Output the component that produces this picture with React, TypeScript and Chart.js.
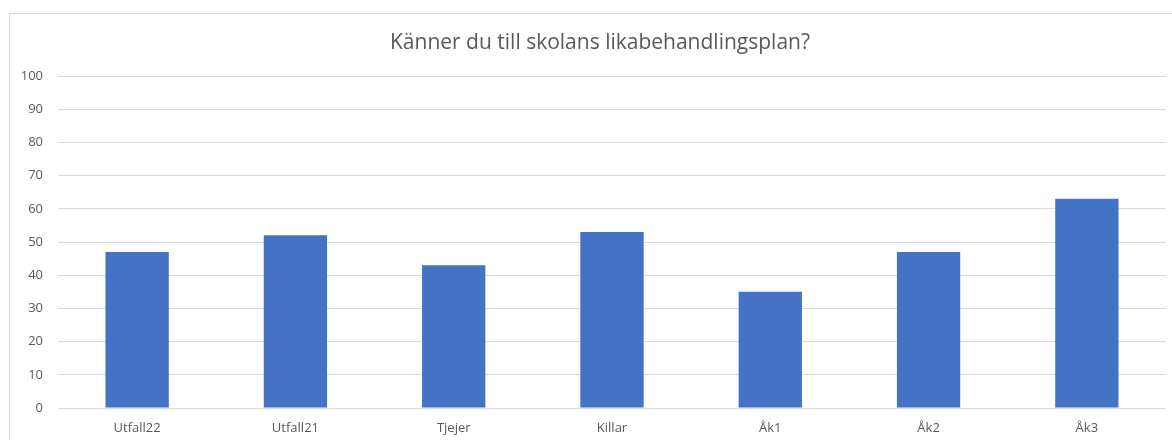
import React, { useEffect, useRef } from "react";
import { Chart, registerables } from "chart.js";

Chart.register(...registerables);

const categories = ["Utfall22", "Utfall21", "Tjejer", "Killar", "Åk1", "Åk2", "Åk3"];
const values = [47, 52, 43, 53, 35, 47, 63];
const titleText = "Känner du till skolans likabehandlingsplan?";
const yMin = 0;
const yMax = 100;
const yStep = 10;

const titlePlugin = {
  id: "offsetTitle",
  afterDraw(chart: any) {
    const ctx = chart.ctx;
    ctx.save();
    ctx.font = "normal 21px 'Open Sans', sans-serif";
    ctx.fillStyle = "#595959";
    ctx.textAlign = "center";
    ctx.textBaseline = "middle";
    ctx.fillText(titleText, 600, 43);
    ctx.restore();
  },
};

export default function App() {
  const ref = useRef<HTMLCanvasElement | null>(null);

  useEffect(() => {
    if (!ref.current) return;
    const chart = new Chart(ref.current, {
      type: "bar",
      data: {
        labels: categories,
        datasets: [
          {
            data: values,
            backgroundColor: "#4472C4",
            borderWidth: 0,
            categoryPercentage: 1,
            barPercentage: 0.4,
          },
        ],
      },
      plugins: [titlePlugin],
      options: {
        animation: false,
        responsive: false,
        maintainAspectRatio: false,
        layout: { padding: { left: 0, right: 6, top: 76, bottom: 0 } },
        plugins: {
          legend: { display: false },
          tooltip: { enabled: false },
          title: { display: false },
        },
        scales: {
          x: {
            grid: { display: false, drawTicks: false },
            border: { display: false },
            ticks: {
              color: "#595959",
              font: { family: "'Open Sans', sans-serif", size: 13 },
              padding: 12,
              maxRotation: 0,
            },
            afterFit: (s: any) => {
              s.height = 32;
            },
          },
          y: {
            min: yMin,
            max: yMax,
            grid: { color: "#d9d9d9", drawTicks: false, lineWidth: 1 },
            border: { display: false },
            ticks: {
              stepSize: yStep,
              color: "#595959",
              font: { family: "'Open Sans', sans-serif", size: 13 },
              padding: 15,
            },
            afterFit: (s: any) => {
              s.width = 58;
            },
          },
        },
      },
    });
    return () => chart.destroy();
  }, []);

  return (
    <div style={{ position: "fixed", left: 0, top: 0, width: 1172, height: 440, background: "#fff", overflow: "hidden" }}>
      <div
        style={{
          position: "absolute",
          left: 9,
          top: 13,
          width: 1300,
          height: 600,
          border: "1px solid #d9d9d9",
          boxSizing: "border-box",
        }}
      />
      <canvas ref={ref} width={1172} height={440} style={{ position: "absolute", left: 0, top: 0 }} />
    </div>
  );
}
